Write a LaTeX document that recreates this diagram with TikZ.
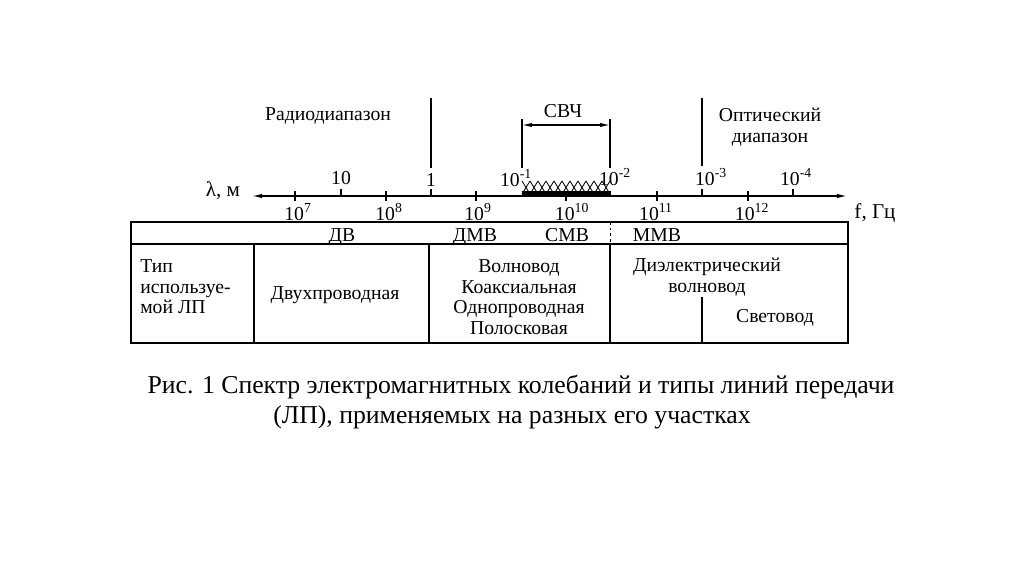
\documentclass[tikz,border=0pt]{standalone}
\usepackage{fontspec}
\setmainfont{Liberation Serif}
\usetikzlibrary{arrows.meta,positioning}

\begin{document}
\begin{tikzpicture}[x=0.025cm,y=-0.025cm,
  lbl/.style={font=\fontsize{14}{15}\selectfont,inner sep=0pt},
  num/.style={font=\fontsize{14}{14}\selectfont,inner sep=0pt},
  band/.style={font=\fontsize{14}{14}\selectfont,inner sep=0pt,anchor=base},
  cell/.style={font=\fontsize{14}{14.6}\selectfont,inner sep=0pt,align=center},
  capt/.style={font=\fontsize{18.3}{21.3}\selectfont,inner sep=0pt,anchor=base},
  axis/.style={line width=1.4pt},
  bar/.style={line width=1.6pt},
  grid/.style={line width=1.1pt},
  dim/.style={{Latex[length=7pt,width=3pt]}-{Latex[length=7pt,width=3pt]},line width=0.8pt}]
\useasboundingbox (0,0) rectangle (1024,574);

% axis
\coordinate (axL) at (248,196);
\coordinate (axR) at (851,196);
\draw[axis,{Latex[length=10pt,width=3pt]}-{Latex[length=10pt,width=3pt]}] (axL) -- (axR);
\node[lbl,font=\fontsize{15}{15}\selectfont] (lam) at (223,191) {λ, м};
\node[lbl,font=\fontsize{15}{15}\selectfont] (freq) at (875,213) {f, Гц};

% ticks
\foreach \x in {295,386,476,566,657,748}
  \draw[axis] (\x,191) -- (\x,201);
\foreach \x in {341,431,702,793}
  \draw[axis] (\x,189) -- (\x,197);

% wavelength labels
\node[num] (w10) at (341,178) {10};
\node[num] (w1)  at (431,180) {1};
\node[num] (wm1) at (516,178) {10\textsuperscript{-1}};
\node[num] (wm2) at (615,177) {10\textsuperscript{-2}};
\node[num] (wm3) at (711,177) {10\textsuperscript{-3}};
\node[num] (wm4) at (796,177) {10\textsuperscript{-4}};

% frequency labels
\node[num] (f7)  at (298,212) {10\textsuperscript{7}};
\node[num] (f8)  at (389,212) {10\textsuperscript{8}};
\node[num] (f9)  at (478,212) {10\textsuperscript{9}};
\node[num] (f10) at (572,212) {10\textsuperscript{10}};
\node[num] (f11) at (656,212) {10\textsuperscript{11}};
\node[num] (f12) at (752,212) {10\textsuperscript{12}};

% range borders
\coordinate (radT) at (431,98);
\coordinate (radB) at (431,168);
\coordinate (optT) at (702,98);
\coordinate (optB) at (702,166);
\draw[bar] (radT) -- (radB);
\draw[bar] (optT) -- (optB);
\node[lbl] (radio) at (328,116) {Радиодиапазон};
\node[lbl,align=center] (optic) at (770,127) {Оптический\\диапазон};

% microwave band
\coordinate (svLT) at (522,119);
\coordinate (svLB) at (522,168);
\coordinate (svRT) at (610,119);
\coordinate (svRB) at (610,168);
\draw[line width=1pt] (svLT) -- (svLB);
\draw[line width=1pt] (svRT) -- (svRB);
\draw[dim] (522,125) -- (610,125);
\node[lbl] (svch) at (563,111) {СВЧ};
\draw[line width=3pt] (522,193) -- (611,193);
\foreach \i in {0,...,10}{
  \draw[line width=0.6pt] (522+8*\i,194) -- (530+8*\i,181);
  \draw[line width=0.6pt] (522+8*\i,181) -- (530+8*\i,194);
}

% table
\draw[grid] (131,222) rectangle (848,343);
\draw[grid] (131,244) -- (848,244);
\draw[grid] (254,244) -- (254,343);
\draw[grid] (429,244) -- (429,343);
\draw[grid] (610,244) -- (610,343);
\draw[grid] (702,297) -- (702,343);
\draw[line width=0.6pt,dash pattern=on 2pt off 2pt] (610,222) -- (610,244);

\node[band] (dv)  at (342,241) {ДВ};
\node[band] (dmv) at (475,241) {ДМВ};
\node[band] (smv) at (567,241) {СМВ};
\node[band] (mmv) at (657,241) {ММВ};

\node[cell,align=left,anchor=west] (tip) at (140,287) {Тип\\используе-\\мой ЛП};
\node[cell] (twin) at (335,295) {Двухпроводная};
\node[cell] (wave) at (519,297) {Волновод\\Коаксиальная\\Однопроводная\\Полосковая};
\node[cell] (diel) at (707,277) {Диэлектрический\\волновод};
\node[cell] (fiber) at (775,318) {Световод};

% caption
\node[capt] (cap1) at (521,393) {Рис. 1 Спектр электромагнитных колебаний и типы линий передачи};
\node[capt] (cap2) at (512,423) {(ЛП), применяемых на разных его участках};
\end{tikzpicture}
\end{document}
